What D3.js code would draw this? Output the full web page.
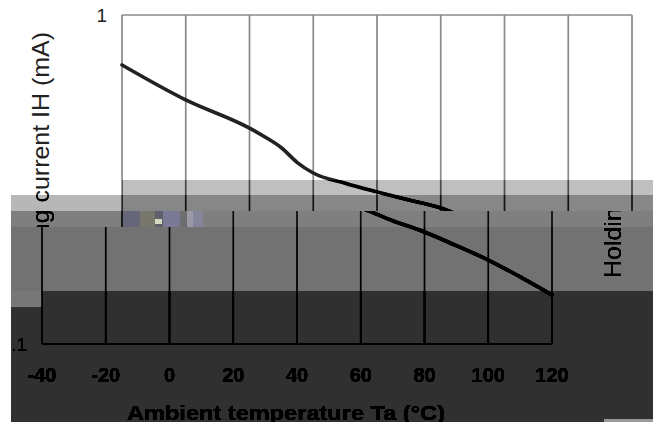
<!DOCTYPE html>
<html lang="en">
<head>
    <meta charset="utf-8">
    <title>Holding current vs ambient temperature</title>
    <style type="text/css">
        body { margin: 0; background: #fff; }
        svg { display: block; font-family: "Liberation Sans", Arial, sans-serif; }
    </style>
</head>
<body>
   <svg class="svg_chart" width="659" height="422"></svg>

   <script src="https://d3js.org/d3.v7.min.js"></script>
   <script>
        // data
        var temps  = [-40, -20, 0, 5, 10, 15, 20, 30, 40, 50, 60, 70, 80, 90, 100, 110, 120];
        var holdIH = [0.705, 0.552, 0.453, 0.425, 0.395, 0.356, 0.331, 0.308, 0.290, 0.274, 0.259, 0.237, 0.219, 0.199, 0.180, 0.160, 0.141];
        var xTicks = [-40, -20, 0, 20, 40, 60, 80, 100, 120];
        var yTicks = [0.1, 1];
        var yTickLabels = ['0.1', '1'];
        var xTitle = 'Ambient temperature Ta (\u00B0C)';
        var yTitle = 'Holding current IH (mA)';

        var svg = d3.select('.svg_chart'),
            width = +svg.attr('width'),
            height = +svg.attr('height');

        var x = d3.scaleLinear().domain([-40, 120]).range([42, 552]);
        var y = d3.scaleLog().domain([0.1, 1]).range([344, 15]);

        // the picture is a damaged jpeg: top rows shifted by 80px (wrapping one block row down)
        // and the lower part darkened in bands
        var shift = 80, wrap = 652, block = 16;
        var bands = [
            {x: 122, y: 180, w: 531, h: 15, k: 0.25},
            {x: 11,  y: 195, w: 111, h: 16, k: 0.28},
            {x: 122, y: 195, w: 531, h: 16, k: 0.47},
            {x: 11,  y: 211, w: 642, h: 16, k: 0.50},
            {x: 11,  y: 227, w: 642, h: 64, k: 0.55},
            {x: 11,  y: 291, w: 31,  h: 16, k: 0.53},
            {x: 42,  y: 291, w: 611, h: 131, k: 0.81},
            {x: 11,  y: 307, w: 31,  h: 115, k: 0.81}
        ];

        var defs = svg.append('defs');

        // clip for the shifted top part and the normal bottom part
        var topClip = defs.append('clipPath').attr('id', 'clipTop');
        topClip.append('rect').attr('x', 11).attr('y', 0).attr('width', 642).attr('height', 211);
        topClip.append('rect').attr('x', 11).attr('y', 211).attr('width', 192).attr('height', 16);

        var botClip = defs.append('clipPath').attr('id', 'clipBot');
        botClip.append('rect').attr('x', 203).attr('y', 211).attr('width', 450).attr('height', 16);
        botClip.append('rect').attr('x', 11).attr('y', 227).attr('width', 642).attr('height', 195);

        // darkening filters (subtract a constant, like a wrong DC value)
        bands.forEach(function(b, i) {
            defs.append('clipPath').attr('id', 'clipBand' + i)
                .append('rect')
                .attr('x', b.x).attr('y', b.y).attr('width', b.w).attr('height', b.h);

            var f = defs.append('filter')
                .attr('id', 'dark' + i)
                .attr('filterUnits', 'userSpaceOnUse')
                .attr('x', 0).attr('y', 0).attr('width', width).attr('height', height)
                .attr('color-interpolation-filters', 'sRGB')
                .append('feComponentTransfer');
            ['feFuncR', 'feFuncG', 'feFuncB'].forEach(function(fn) {
                f.append(fn).attr('type', 'linear').attr('slope', 1).attr('intercept', -b.k);
            });
        });

        // draw the whole chart into a group
        function drawChart(g) {
            // vertical grid
            g.append('g')
                .selectAll('line')
                .data(xTicks)
                .enter()
                .append('line')
                .attr('x1', function(d) { return x(d); })
                .attr('x2', function(d) { return x(d); })
                .attr('y1', y(1))
                .attr('y2', y(0.1))
                .attr('stroke', '#8a8a8a')
                .attr('stroke-width', 1.7);

            // top and bottom frame
            g.append('g')
                .selectAll('line')
                .data(yTicks)
                .enter()
                .append('line')
                .attr('x1', x(-40))
                .attr('x2', x(120))
                .attr('y1', function(d) { return y(d); })
                .attr('y2', function(d) { return y(d); })
                .attr('stroke', '#8a8a8a')
                .attr('stroke-width', 1.7);

            // y tick labels
            g.append('g')
                .selectAll('text')
                .data(yTicks)
                .enter()
                .append('text')
                .attr('x', x(-40) - 15)
                .attr('y', function(d) { return y(d); })
                .attr('dy', '0.36em')
                .attr('text-anchor', 'end')
                .attr('font-size', 19)
                .attr('fill', '#222')
                .text(function(d, i) { return yTickLabels[i]; });

            // x tick labels
            g.append('g')
                .selectAll('text')
                .data(xTicks)
                .enter()
                .append('text')
                .attr('x', function(d) { return x(d); })
                .attr('y', y(0.1) + 38)
                .attr('text-anchor', 'middle')
                .attr('font-size', 20)
                .attr('font-weight', 'bold')
                .attr('fill', '#111')
                .text(function(d) { return d; });

            // axis titles
            g.append('text')
                .attr('x', 286)
                .attr('y', y(0.1) + 76)
                .attr('text-anchor', 'middle')
                .attr('font-size', 21)
                .attr('font-weight', 'bold')
                .attr('fill', '#111')
                .attr('textLength', 318)
                .attr('lengthAdjust', 'spacingAndGlyphs')
                .text(xTitle);

            g.append('text')
                .attr('transform', 'translate(621,147) rotate(-90)')
                .attr('text-anchor', 'middle')
                .attr('font-size', 24)
                .attr('fill', '#222')
                .attr('textLength', 262)
                .attr('lengthAdjust', 'spacingAndGlyphs')
                .text(yTitle);

            // curve
            var line = d3.line()
                .x(function(d, i) { return x(temps[i]); })
                .y(function(d) { return y(d); })
                .curve(d3.curveMonotoneX);

            g.append('path')
                .datum(holdIH)
                .attr('d', line)
                .attr('fill', 'none')
                .attr('stroke', '#222')
                .attr('stroke-width', 3.6)
                .attr('stroke-linecap', 'round');
        }

        var scene = svg.append('g').attr('id', 'scene');
        scene.append('rect').attr('width', width).attr('height', height).attr('fill', '#fff');

        var topPart = scene.append('g').attr('clip-path', 'url(#clipTop)');
        drawChart(topPart.append('g').attr('transform', 'translate(' + shift + ',0)'));
        drawChart(topPart.append('g').attr('transform', 'translate(' + (shift - wrap) + ',' + block + ')'));

        drawChart(scene.append('g').attr('clip-path', 'url(#clipBot)'));

        // darkened bands
        bands.forEach(function(b, i) {
            svg.append('use')
                .attr('href', '#scene')
                .attr('clip-path', 'url(#clipBand' + i + ')')
                .attr('filter', 'url(#dark' + i + ')');
        });

        // small noisy block of the damaged row
        var noise = [
            {x: 123, w: 17, c: '#66667a'},
            {x: 140, w: 15, c: '#76766a'},
            {x: 155, w: 8,  c: '#5e5e6c'},
            {x: 163, w: 17, c: '#7a7a96'},
            {x: 180, w: 7,  c: '#6e6e6e'},
            {x: 187, w: 6,  c: '#9a9aa6'},
            {x: 193, w: 10, c: '#86869a'}
        ];
        svg.append('g')
            .selectAll('rect')
            .data(noise)
            .enter()
            .append('rect')
            .attr('x', function(d) { return d.x; })
            .attr('y', 211)
            .attr('width', function(d) { return d.w; })
            .attr('height', 16)
            .attr('fill', function(d) { return d.c; });
        svg.append('rect')
            .attr('x', 155).attr('y', 219).attr('width', 7).attr('height', 5)
            .attr('fill', '#d8d8c0');
        svg.append('rect')
            .attr('x', 604).attr('y', 419).attr('width', 49).attr('height', 3)
            .attr('fill', '#9a9a9a');
   </script>
</body>
</html>
